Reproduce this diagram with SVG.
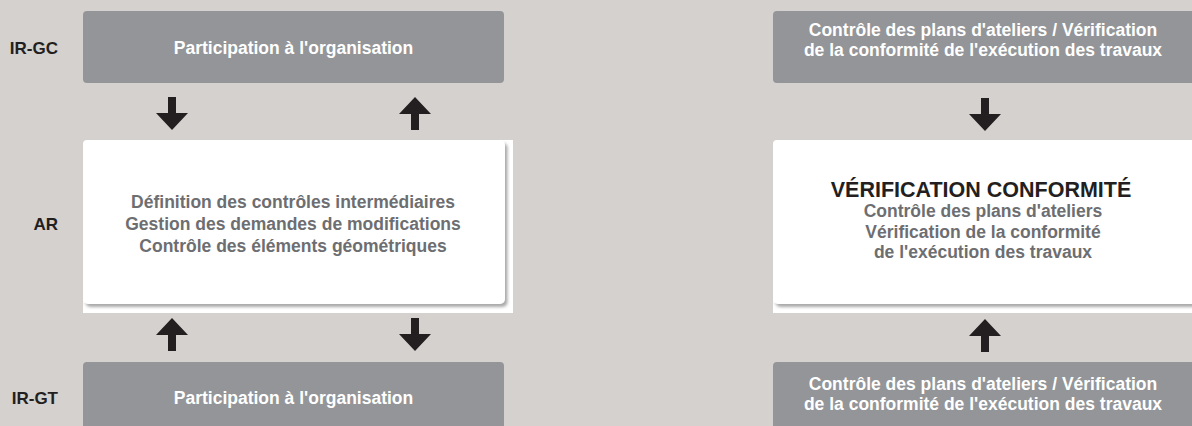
<svg xmlns="http://www.w3.org/2000/svg" xmlns:xlink="http://www.w3.org/1999/xlink" width="1192" height="426" viewBox="0 0 1192 426">
<style>
.bg{fill:#d5d1ce}
.gbox{fill:#939598}
.wbg{fill:#ffffff}
.wbox{fill:#ffffff;filter:url(#shadow)}
.lbl{font-family:"Liberation Sans",Arial,sans-serif;font-weight:700;font-size:17px;fill:#231f20;text-anchor:end}
.wt{font-family:"Liberation Sans",Arial,sans-serif;font-weight:700;font-size:17.5px;fill:#ffffff;text-anchor:middle}
.gt{font-family:"Liberation Sans",Arial,sans-serif;font-weight:700;font-size:17.5px;fill:#6d6e71;text-anchor:middle}
.title{font-family:"Liberation Sans",Arial,sans-serif;font-weight:700;font-size:21.5px;fill:#231f20;text-anchor:middle}
.arr{fill:#231f20}
</style>
<defs>
<filter id="shadow" x="-5%" y="-5%" width="115%" height="120%">
<feDropShadow dx="2.5" dy="3" stdDeviation="1.6" flood-color="#7a7a7a" flood-opacity="0.65"/>
</filter>
<path id="down" d="M-4,0 H4 V16 H16 L0,33 L-16,16 H-4 Z"/>
<path id="up" d="M-4,33 H4 V17 H16 L0,0 L-16,17 H-4 Z"/>
</defs>
<rect class="bg" x="0" y="0" width="1192" height="426"/>

<g id="label-ir-gc"><text class="lbl" x="58" y="54">IR-GC</text></g>
<g id="label-ar"><text class="lbl" x="58" y="230">AR</text></g>
<g id="label-ir-gt"><text class="lbl" x="58" y="404">IR-GT</text></g>

<g id="node-gc-left">
<rect class="gbox" x="83" y="11" width="421" height="72" rx="4"/>
<text class="wt" x="293.5" y="53.5">Participation à l'organisation</text>
</g>

<g id="node-ar-left">
<path class="wbg" d="M87,140 H513 V313 H83 V144 Q83,140 87,140 Z"/>
<rect class="wbox" x="83" y="140" width="422" height="164" rx="5"/>
<text class="gt" x="293" y="208">Définition des contrôles intermédiaires</text>
<text class="gt" x="293" y="230">Gestion des demandes de modifications</text>
<text class="gt" x="293" y="252">Contrôle des éléments géométriques</text>
</g>

<g id="node-gt-left">
<rect class="gbox" x="83" y="362" width="421" height="80" rx="4"/>
<text class="wt" x="293.5" y="404">Participation à l'organisation</text>
</g>

<g id="node-gc-right">
<rect class="gbox" x="773" y="11" width="430" height="72" rx="4"/>
<text class="wt" x="983" y="36">Contrôle des plans d'ateliers / Vérification</text>
<text class="wt" x="983" y="56">de la conformité de l'exécution des travaux</text>
</g>

<g id="node-ver-right">
<path class="wbg" d="M777,140 H1192 V313 H773 V144 Q773,140 777,140 Z"/>
<rect class="wbox" x="773" y="140" width="440" height="164" rx="5"/>
<text class="title" x="981" y="197">VÉRIFICATION CONFORMITÉ</text>
<text class="gt" x="983" y="217">Contrôle des plans d'ateliers</text>
<text class="gt" x="983" y="237.5">Vérification de la conformité</text>
<text class="gt" x="983" y="258">de l'exécution des travaux</text>
</g>

<g id="node-gt-right">
<rect class="gbox" x="773" y="362" width="430" height="80" rx="4"/>
<text class="wt" x="983" y="390">Contrôle des plans d'ateliers / Vérification</text>
<text class="wt" x="983" y="410">de la conformité de l'exécution des travaux</text>
</g>

<g id="connectors" class="arr">
<use xlink:href="#down" x="172" y="97"/>
<use xlink:href="#up" x="415" y="97"/>
<use xlink:href="#up" x="172" y="318"/>
<use xlink:href="#down" x="415" y="318"/>
<use xlink:href="#down" x="985" y="98"/>
<use xlink:href="#up" x="985" y="319"/>
</g>
</svg>
